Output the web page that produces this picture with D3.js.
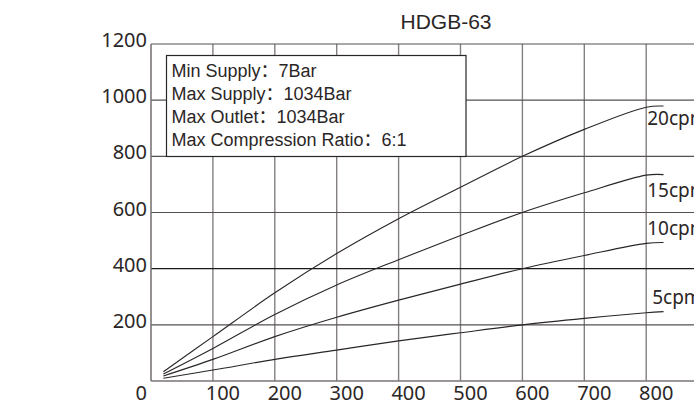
<!DOCTYPE html>
<html>
<head>
<meta charset="utf-8">
<script src="https://cdn.jsdelivr.net/npm/d3@7"></script>
<style>
  body { margin: 0; background: #fff; }
  svg { display: block; }
</style>
</head>
<body>
<div id="chart"></div>
<script>
// Data
const title = "HDGB-63";
const flowX = [20, 100, 200, 300, 400, 500, 600, 700, 800, 828];
const cpm20 = [33, 158, 314, 454, 578, 690, 800, 896, 975, 979];
const cpm15 = [25, 116, 237, 342, 432, 518, 600, 670, 733, 735];
const cpm10 = [18, 77, 158, 227, 288, 345, 400, 447, 490, 493];
const cpm5  = [10, 39, 77, 110, 143, 172, 200, 223, 243, 247];
const seriesNames = ["20cpm", "15cpm", "10cpm", "5cpm"];
const xTicks = [100, 200, 300, 400, 500, 600, 700, 800];
const yTicks = [200, 400, 600, 800, 1000, 1200];
const specLines = [
  "Min Supply\uFF1A7Bar",
  "Max Supply\uFF1A1034Bar",
  "Max Outlet\uFF1A1034Bar",
  "Max Compression Ratio\uFF1A6:1"
];

const width = 694, height = 409;
const margin = { top: 44, left: 151, bottom: 28 };

const svg = d3.select("#chart")
  .append("svg")
  .attr("width", width)
  .attr("height", height);

const x = d3.scaleLinear().domain([0, 900]).range([margin.left, margin.left + 9 * 61.9]);
const y = d3.scaleLinear().domain([0, 1200]).range([height - margin.bottom, margin.top]);

const tickFont = "'Noto Sans', 'Open Sans', sans-serif";
const textFont = "'Liberation Sans', Arial, 'Noto Sans CJK SC', sans-serif";

// vertical grid
svg.append("g")
  .selectAll("line")
  .data(xTicks)
  .join("line")
  .attr("x1", d => x(d)).attr("x2", d => x(d))
  .attr("y1", y(0)).attr("y2", y(1200))
  .attr("stroke", "#858080")
  .attr("stroke-width", 1.4);

// horizontal grid
svg.append("g")
  .selectAll("line")
  .data(yTicks)
  .join("line")
  .attr("x1", x(0)).attr("x2", x(900))
  .attr("y1", d => y(d)).attr("y2", d => y(d))
  .attr("stroke", d => d === 400 ? "#1a1a1a" : "#555050")
  .attr("stroke-width", 1.2);

// axes lines
svg.append("line")
  .attr("x1", x(0)).attr("x2", x(0))
  .attr("y1", y(0)).attr("y2", y(1200))
  .attr("stroke", "#7a7575").attr("stroke-width", 1.6);
svg.append("line")
  .attr("x1", x(0)).attr("x2", x(900))
  .attr("y1", y(0)).attr("y2", y(0))
  .attr("stroke", "#7a7575").attr("stroke-width", 1.6);

// y labels
svg.append("g")
  .selectAll("text")
  .data(yTicks)
  .join("text")
  .attr("x", x(0) - 4)
  .attr("y", d => y(d) + 3)
  .attr("text-anchor", "end")
  .style("font-family", tickFont)
  .style("font-size", "20px")
  .style("fill", "#2b2626")
  .text(d => d);

// x labels
svg.append("g")
  .selectAll("text")
  .data(xTicks)
  .join("text")
  .attr("x", d => x(d) + 10)
  .attr("y", y(0) + 19)
  .attr("text-anchor", "middle")
  .style("font-family", tickFont)
  .style("font-size", "20px")
  .style("fill", "#2b2626")
  .text(d => d);

svg.append("text")
  .attr("x", x(0) - 4)
  .attr("y", y(0) + 19)
  .attr("text-anchor", "end")
  .style("font-family", tickFont)
  .style("font-size", "20px")
  .style("fill", "#2b2626")
  .text("0");

// title
svg.append("text")
  .attr("x", 446)
  .attr("y", 29)
  .attr("text-anchor", "middle")
  .style("font-family", textFont)
  .style("font-size", "21px")
  .style("fill", "#2b2626")
  .text(title);

// curves
const line = d3.line()
  .x(d => x(d[0]))
  .y(d => y(d[1]))
  .curve(d3.curveCatmullRom.alpha(0.5));

const series = [cpm20, cpm15, cpm10, cpm5];
const labelDy = [19, 22, -8, -8];
const labelDx = [1, 1, 1, 6];

series.forEach((vals, i) => {
  const pts = flowX.map((fx, j) => [fx, vals[j]]);
  svg.append("path")
    .attr("d", line(pts))
    .attr("fill", "none")
    .attr("stroke", "#2b2626")
    .attr("stroke-width", 1.1);

  svg.append("text")
    .attr("x", x(800) + labelDx[i])
    .attr("y", y(vals[vals.length - 1]) + labelDy[i])
    .style("font-family", tickFont)
    .style("font-size", "19px")
    .style("fill", "#2b2626")
    .text(seriesNames[i]);
});

// spec box
const box = svg.append("g").attr("transform", "translate(166.5,55.5)");
box.append("rect")
  .attr("width", 299.5)
  .attr("height", 101)
  .attr("fill", "#fff")
  .attr("stroke", "#2b2626")
  .attr("stroke-width", 1.2);
box.selectAll("text")
  .data(specLines)
  .join("text")
  .attr("x", 5)
  .attr("y", (d, i) => 21 + i * 23.3)
  .style("font-family", textFont)
  .style("font-size", "18px")
  .style("fill", "#2b2626")
  .text(d => d);
</script>
</body>
</html>
